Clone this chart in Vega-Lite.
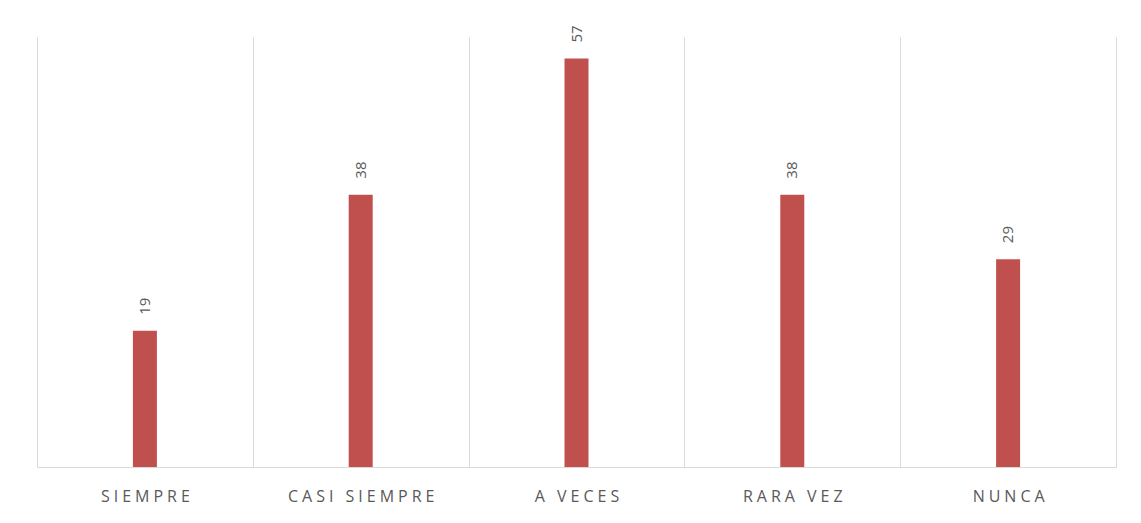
{
  "$schema": "https://vega.github.io/schema/vega-lite/v6.json",
  "width": 1079,
  "height": 430,
  "autosize": {"type": "none"},
  "padding": {"left": 37, "top": 37, "right": 25, "bottom": 56},
  "background": "white",
  "config": {"view": {"stroke": null}},
  "data": {
    "values": [
      {"categoria": "SIEMPRE", "valor": 19},
      {"categoria": "CASI SIEMPRE", "valor": 38},
      {"categoria": "A VECES", "valor": 57},
      {"categoria": "RARA VEZ", "valor": 38},
      {"categoria": "NUNCA", "valor": 29}
    ]
  },
  "encoding": {
    "x": {
      "field": "categoria",
      "type": "nominal",
      "sort": null,
      "scale": {"paddingInner": 0, "paddingOuter": 0},
      "axis": {
        "title": null,
        "orient": "bottom",
        "grid": true,
        "gridColor": "#d9d9d9",
        "gridWidth": 1,
        "tickBand": "extent",
        "ticks": false,
        "domain": true,
        "domainColor": "#d9d9d9",
        "domainWidth": 1,
        "labelAngle": 0,
        "labelColor": "#595959",
        "labelFont": "Open Sans",
        "labelFontSize": 16,
        "labelPadding": 21,
        "labelExpr": "join(split(datum.label, ''), '\u2005')"
      }
    },
    "y": {
      "field": "valor",
      "type": "quantitative",
      "scale": {"domain": [0, 60]},
      "axis": null
    }
  },
  "layer": [
    {
      "mark": {"type": "bar", "color": "#C0504D", "width": 24}
    },
    {
      "mark": {
        "type": "text",
        "angle": 270,
        "align": "left",
        "baseline": "middle",
        "dx": 16,
        "color": "#595959",
        "font": "Open Sans",
        "fontSize": 15
      },
      "encoding": {"text": {"field": "valor", "type": "quantitative"}}
    }
  ]
}
